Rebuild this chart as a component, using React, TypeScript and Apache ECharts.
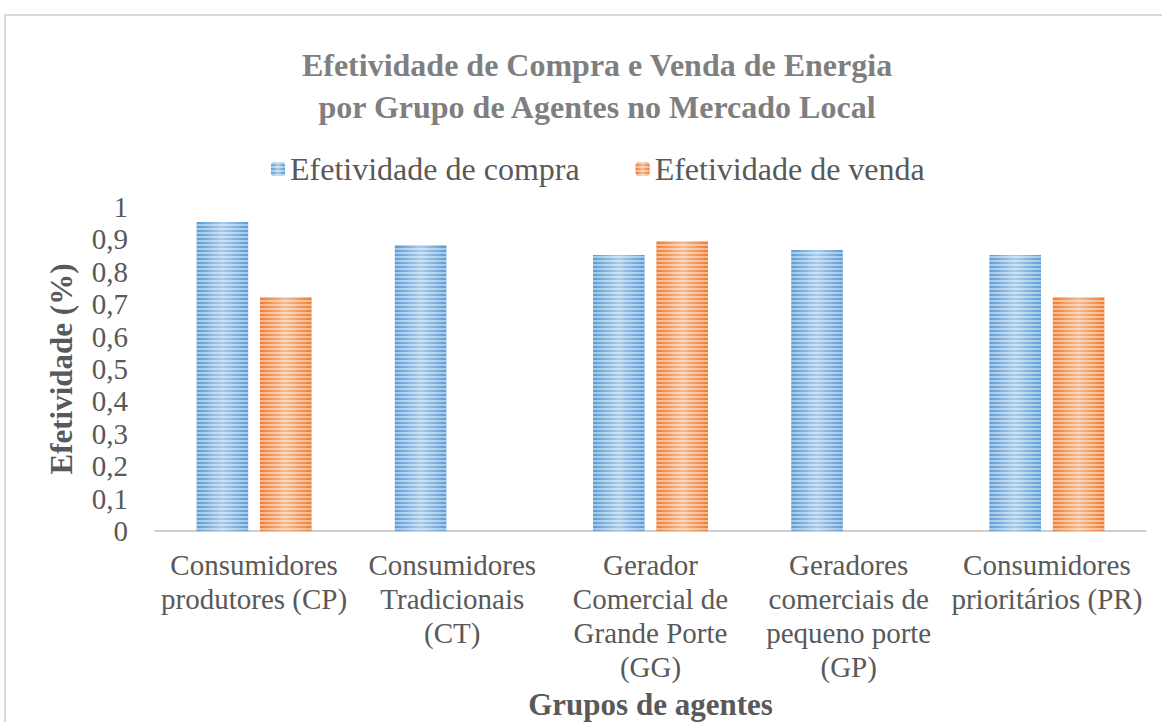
import React, { useEffect, useRef } from "react";
import * as echarts from "echarts";

const categories = [
  "Consumidores\nprodutores (CP)",
  "Consumidores\nTradicionais\n(CT)",
  "Gerador\nComercial de\nGrande Porte\n(GG)",
  "Geradores\ncomerciais de\npequeno porte\n(GP)",
  "Consumidores\nprioritários (PR)",
];
const compra = [0.954, 0.883, 0.852, 0.867, 0.852];
const venda = [0.722, null, 0.895, null, 0.722];
const seriesNames = ["Efetividade de compra", "Efetividade de venda"];
const titleText = "Efetividade de Compra e Venda de Energia\npor Grupo de Agentes no Mercado Local";

const FONT = "'Liberation Serif', 'Times New Roman', serif";

function grad(edge: string, mid: string) {
  return new echarts.graphic.LinearGradient(0, 0, 1, 0, [
    { offset: 0, color: edge },
    { offset: 0.5, color: mid },
    { offset: 1, color: edge },
  ]);
}

export default function App() {
  const ref = useRef<HTMLDivElement>(null);
  useEffect(() => {
    document.body.style.margin = "0";
    const chart = echarts.init(ref.current!, null, { renderer: "svg" });
    const decal = {
      symbol: "rect",
      symbolSize: 1,
      dashArrayX: [[1, 0]],
      dashArrayY: [2, 2],
      color: "rgba(255,255,255,0.45)",
      rotation: 0,
    };
    chart.setOption({
      animation: false,
      backgroundColor: "#ffffff",
      graphic: [
        {
          type: "rect",
          shape: { x: 5, y: 15, width: 1200, height: 800 },
          style: { fill: "none", stroke: "#d9d9d9", lineWidth: 2 },
          silent: true,
        },
      ],
      title: {
        text: titleText,
        left: 592,
        top: 39,
        textAlign: "center",
        textStyle: {
          fontFamily: FONT,
          fontSize: 32,
          fontWeight: "bold",
          color: "#7f7f7f",
          lineHeight: 42,
        },
      },
      legend: {
        top: 148,
        left: 266,
        itemWidth: 14,
        itemHeight: 14,
        itemGap: 56,
        textStyle: { fontFamily: FONT, fontSize: 32, color: "#595959" },
        data: seriesNames,
      },
      grid: { left: 155, right: 16, top: 207, bottom: 191, outerBoundsMode: "none", containLabel: false },
      xAxis: {
        type: "category",
        data: categories,
        name: "Grupos de agentes",
        nameLocation: "middle",
        nameGap: 158,
        nameTextStyle: { fontFamily: FONT, fontSize: 31, fontWeight: "bold", color: "#595959" },
        axisLine: { lineStyle: { color: "#bfbfbf", width: 1.5 } },
        axisTick: { show: false },
        axisLabel: {
          fontFamily: FONT,
          fontSize: 29,
          color: "#595959",
          lineHeight: 34,
          margin: 17,
          interval: 0,
        },
      },
      yAxis: {
        type: "value",
        min: 0,
        max: 1,
        interval: 0.1,
        name: "Efetividade (%)",
        nameLocation: "middle",
        nameGap: 78,
        nameTextStyle: { fontFamily: FONT, fontSize: 31, fontWeight: "bold", color: "#595959" },
        splitLine: { show: false },
        axisLine: { show: false },
        axisTick: { show: false },
        axisLabel: {
          fontFamily: FONT,
          fontSize: 29,
          color: "#595959",
          margin: 27,
          formatter: (v: number) => String(Math.round(v * 10) / 10).replace(".", ","),
        },
      },
      series: [
        {
          name: seriesNames[0],
          type: "bar",
          data: compra,
          barWidth: "26%",
          barGap: "23%",
          itemStyle: { color: grad("#5b9bd5", "#a9cbea"), decal },
        },
        {
          name: seriesNames[1],
          type: "bar",
          data: venda,
          barWidth: "26%",
          itemStyle: { color: grad("#ed7d31", "#f6b98f"), decal },
        },
      ],
    });
    return () => chart.dispose();
  }, []);
  return <div ref={ref} style={{ width: 1162, height: 722 }} />;
}
